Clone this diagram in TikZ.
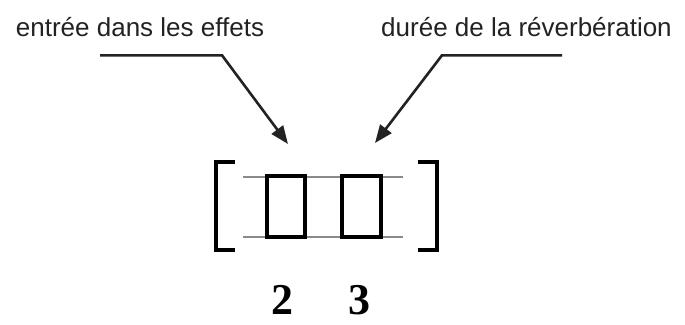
\documentclass[tikz,border=0pt]{standalone}
\usepackage{fontspec}
\setmainfont{Liberation Serif}
\newfontfamily\labelfont{Liberation Sans}
\usetikzlibrary{arrows.meta}
\definecolor{ink}{HTML}{222222}
\definecolor{guide}{HTML}{8A8A8A}
\tikzset{
  caption/.style={font=\labelfont\fontsize{26}{30}\selectfont, text=ink, inner sep=0pt, anchor=base},
  digit/.style={font=\bfseries\fontsize{44}{48}\selectfont, inner sep=0pt, text depth=0pt, anchor=base},
  leader/.style={draw=ink, line width=2.6pt, line join=miter, -{Triangle[length=18pt,width=14pt]}},
  cell/.style={draw=black, line width=4pt, minimum width=38pt, minimum height=61pt, inner sep=0pt, fill=white},
  bracket/.style={draw=black, line width=3.5pt},
  rail/.style={draw=guide, line width=1.6pt}
}
\begin{document}
\begin{tikzpicture}[x=1pt,y=-1pt]
  \useasboundingbox (0,0) rectangle (685,324);

  % labels
  \node[caption] (lin) at (140,36) {entrée dans les effets};
  \node[caption] (lrev) at (526.5,36) {durée de la réverbération};

  % leader line anchor points
  \coordinate (a1) at (100,55.3);
  \coordinate (a2) at (222,55.3);
  \coordinate (t1) at (288,144);
  \coordinate (b1) at (562,55.3);
  \coordinate (b2) at (442,55.3);
  \coordinate (t2) at (375,143);

  % guide rails
  \coordinate (r1) at (243,177);
  \coordinate (r2) at (403,177);
  \coordinate (r3) at (243,237);
  \coordinate (r4) at (403,237);
  \draw[rail] (r1) -- (r2);
  \draw[rail] (r3) -- (r4);

  % the two cells
  \node[cell] (c2) at (286,206.5) {};
  \node[cell, minimum width=39pt] (c3) at (361.5,206.5) {};

  % brackets
  \draw[bracket] (235,162) -- (216,162) -- (216,250) -- (235,250);
  \draw[bracket] (418,162) -- (437,162) -- (437,250) -- (418,250);

  % leaders
  \draw[leader] (a1) -- (a2) -- (t1);
  \draw[leader] (b1) -- (b2) -- (t2);

  % cell numbers
  \node[digit] (n2) at (282.5,314) {2};
  \node[digit] (n3) at (359,314) {3};
\end{tikzpicture}
\end{document}
